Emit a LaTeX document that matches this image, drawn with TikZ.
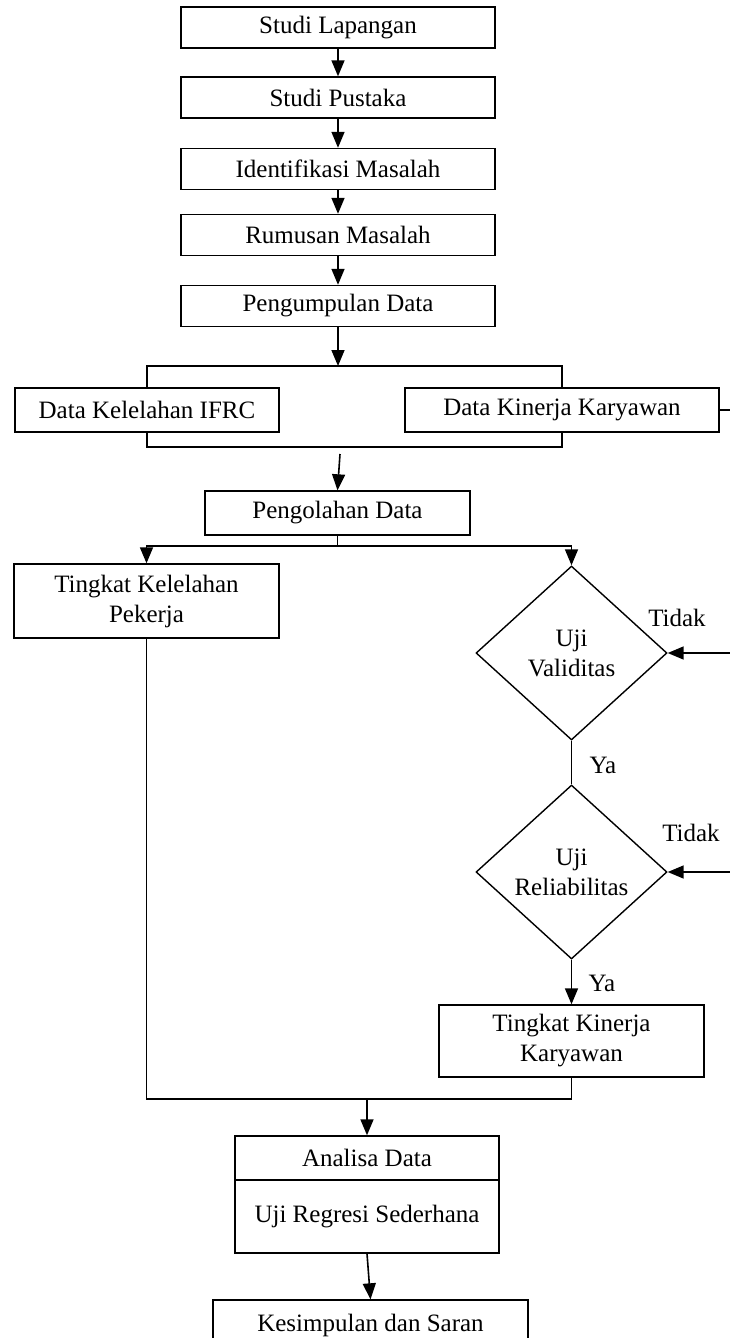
\documentclass[tikz,border=0pt]{standalone}
\usepackage{fontspec}
\setmainfont{Liberation Serif}
\usetikzlibrary{arrows.meta,shapes.geometric}
\begin{document}
\begin{tikzpicture}[x=1pt,y=-1pt,
  box/.style={draw, line width=1.4pt, inner sep=0pt, align=center, font=\fontsize{25}{30}\selectfont},
  dia/.style={draw, diamond, line width=1.4pt, inner sep=0pt, align=center, minimum width=191pt, minimum height=174pt, font=\fontsize{25}{30}\selectfont},
  lbl/.style={inner sep=0pt, font=\fontsize{25}{30}\selectfont},
  con/.style={line width=1.6pt},
  arr/.style={con, -{Triangle[length=16pt,width=13pt]}}]
\useasboundingbox (0,0) rectangle (729,1338);
\fill[white] (0,0) rectangle (729,1338);

% top chain
\node[box, minimum width=314pt, minimum height=41pt] (s1) at (338,27.5) {Studi Lapangan};
\node[box, minimum width=314pt, minimum height=41pt] (s2) at (338,97.5) {Studi Pustaka};
\node[box, minimum width=314pt, minimum height=41pt] (s3) at (338,169) {Identifikasi Masalah};
\node[box, minimum width=314pt, minimum height=41pt] (s4) at (338,235) {Rumusan Masalah};
\node[box, minimum width=314pt, minimum height=41pt] (s5) at (338,306) {Pengumpulan Data};
\draw[arr] (s1) -- (s2);
\draw[arr] (s2) -- (s3);
\draw[arr] (s3) -- (s4);
\draw[arr] (s4) -- (s5);

% data boxes with bracket
\node[box, minimum width=264pt, minimum height=44pt] (k1) at (147,410) {Data Kelelahan IFRC};
\node[box, minimum width=314pt, minimum height=44pt] (k2) at (562,410) {Data Kinerja Karyawan};
\coordinate (bl) at (147,366);
\coordinate (br) at (562,366);
\coordinate (bl2) at (147,447);
\coordinate (br2) at (562,447);
\draw[arr] (s5.south) -- (s5.south |- bl);
\draw[con] (k1.north) -- (bl) -- (br) -- (k2.north);
\draw[con] (k1.south) -- (bl2) -- (br2) -- (k2.south);
\coordinate (e1) at (745,410);
\draw[con] (k2.east) -- (e1);

% processing
\node[box, minimum width=265pt, minimum height=44pt] (p) at (337.5,513) {Pengolahan Data};
\coordinate (bb) at (340,454);
\draw[arr] (bb) -- (p.north);
\coordinate (j) at (337.5,546);
\node[box, minimum width=265pt, minimum height=74pt] (t1) at (146.5,601) {Tingkat Kelelahan\\Pekerja};
\node[dia] (d1) at (571.5,653) {Uji\\Validitas};
\draw[con] (p.south) -- (j);
\draw[arr] (j) -| (t1.north);
\draw[arr] (j) -| (d1.north);

\node[dia] (d2) at (571.5,872) {Uji\\Reliabilitas};
\draw[con] (d1.south) -- (d2.north);
\node[lbl] (ya1) at (603,765) {Ya};
\node[lbl] (td1) at (677,618) {Tidak};
\node[lbl] (td2) at (691,833) {Tidak};
\coordinate (e2) at (745,653);
\coordinate (e3) at (745,872);
\draw[arr] (e2) -- (d1.east);
\draw[arr] (e3) -- (d2.east);

\node[box, minimum width=265pt, minimum height=72pt] (t2) at (571.5,1041) {Tingkat Kinerja\\Karyawan};
\draw[arr] (d2.south) -- (t2.north);
\node[lbl] (ya2) at (602,983) {Ya};

% merge
\coordinate (m) at (367,1099);
\draw[con] (t1.south) -- (t1.south |- m) -- (t2.south |- m) -- (t2.south);

\node[box, minimum width=264pt, minimum height=44pt] (a1) at (367,1158) {Analisa Data};
\node[box, minimum width=264pt, minimum height=73pt] (a2) at (367,1216.5) {Uji Regresi Sederhana};
\draw[arr] (m) -- (m |- a1.north);

\node[box, minimum width=315pt, minimum height=50pt] (k) at (370.5,1325) {Kesimpulan dan Saran};
\draw[arr] (a2.south) -- (k.north);
\end{tikzpicture}
\end{document}
